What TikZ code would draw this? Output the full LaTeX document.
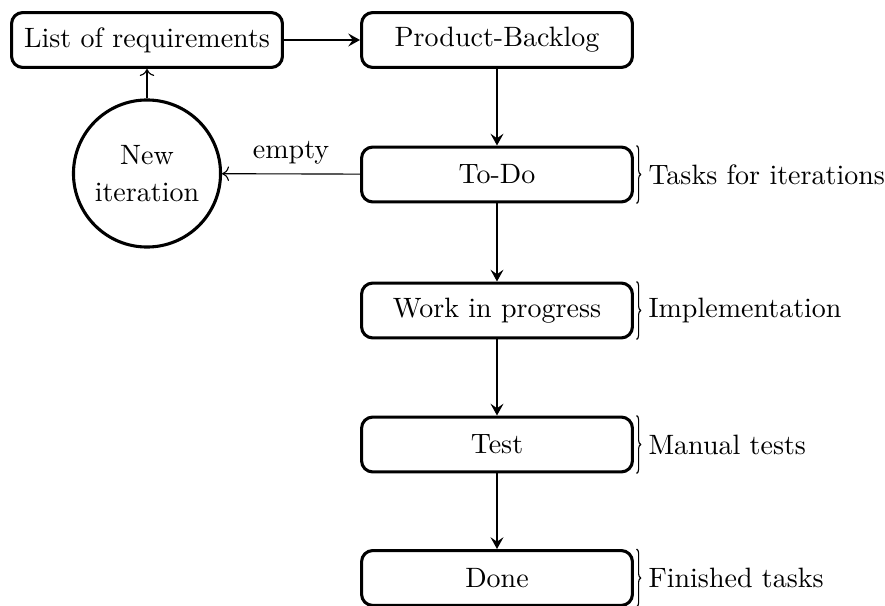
\documentclass[tikz,border=0pt]{standalone}
\usetikzlibrary{decorations.pathreplacing,calc,arrows.meta}
\begin{document}
\begin{tikzpicture}[x=0.357pt,y=-0.357pt,
  box/.style={draw,line width=1.1pt,rounded corners=4pt,minimum width=96.7pt,minimum height=19.6pt,inner sep=0pt},
  iter/.style={draw,circle,line width=1.1pt,minimum size=52.5pt,inner sep=0pt,align=center},
  flow/.style={-{Stealth[length=4.2pt,width=4.6pt,inset=1.6pt]},thick},
  thinflow/.style={->},
  brc/.style={decorate,decoration={brace,amplitude=1.5pt}},
  lbl/.style={anchor=west,inner sep=2.6pt}]
\useasboundingbox (0,0) rectangle (885,606);
\node[box] (req) at (147,40) {List of requirements};
\node[box] (pb) at (497,40) {Product-Backlog};
\node[box] (todo) at (497,174.5) {To-Do};
\node[box] (wip) at (497,310.5) {Work in progress};
\node[box] (test) at (497,444.5) {Test};
\node[box] (done) at (497,578) {Done};
\node[iter] (new) at (147,173.5) {New\\[1.2pt]iteration};
\draw[flow] (req) -- (pb);
\draw[flow] (pb) -- (todo);
\draw[flow] (todo) -- (wip);
\draw[flow] (wip) -- (test);
\draw[flow] (test) -- (done);
\draw[thinflow] (todo) -- node[above] (emp) {empty} (new);
\draw[thinflow] (new) -- (req);
\foreach \n/\t in {todo/Tasks for iterations,wip/Implementation,test/Manual tests,done/Finished tasks}{
  \draw[brc] ([xshift=0.9pt]\n.north east) -- ([xshift=0.9pt]\n.south east);
  \node[lbl] (l\n) at ([xshift=2.4pt]\n.east) {\t};
}
\end{tikzpicture}
\end{document}
